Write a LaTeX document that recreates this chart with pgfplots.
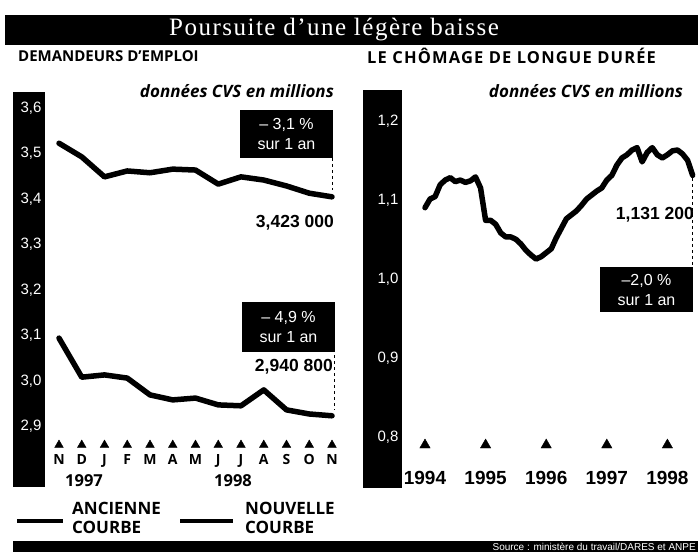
\documentclass[border=0pt]{standalone}
\usepackage{pgfplots}
\pgfplotsset{compat=1.18}
\usepackage{fontspec}
\setmainfont{Liberation Sans}
\newfontfamily\osans{Open Sans}
\newfontfamily\osanswide[LetterSpace=7]{Open Sans}
\newfontfamily\lserif[LetterSpace=6]{Liberation Serif}

\pgfplotstableread{
m v
0 3.523
1 3.493
2 3.449
3 3.462
4 3.458
5 3.466
6 3.464
7 3.433
8 3.449
9 3.442
10 3.429
11 3.413
12 3.405
}\ancienne

\pgfplotstableread{
m v
0 3.094
1 3.008
2 3.013
3 3.006
4 2.969
5 2.958
6 2.962
7 2.947
8 2.945
9 2.980
10 2.936
11 2.927
12 2.923
}\nouvelle

\pgfplotstableread{
m v
0 1.090
1 1.101
2 1.104
3 1.119
4 1.125
5 1.128
6 1.123
7 1.125
8 1.122
9 1.124
10 1.129
11 1.115
12 1.074
13 1.074
14 1.069
15 1.058
16 1.053
17 1.053
18 1.050
19 1.044
20 1.036
21 1.030
22 1.025
23 1.028
24 1.033
25 1.038
26 1.052
27 1.064
28 1.076
29 1.081
30 1.086
31 1.093
32 1.101
33 1.106
34 1.111
35 1.115
36 1.125
37 1.131
38 1.144
39 1.153
40 1.157
41 1.163
42 1.166
43 1.148
44 1.160
45 1.166
46 1.157
47 1.153
48 1.157
49 1.162
50 1.163
51 1.158
52 1.150
53 1.131
}\longue

\begin{document}
\begin{tikzpicture}[x=1pt,y=1pt]
\path[use as bounding box] (0,0) rectangle (698,552);
% title bar
\fill (5,507) rectangle (698,537);
\node[white, inner sep=0, font=\lserif\fontsize{25}{25}\selectfont] at (334,522) {Poursuite d’une légère baisse};
% headings
\node[anchor=west, inner sep=0, font=\osans\bfseries\fontsize{15}{15}\selectfont] at (18,496) {DEMANDEURS D’EMPLOI};
\node[anchor=west, inner sep=0, font=\osanswide\bfseries\fontsize{16.5}{16.5}\selectfont] at (367,496) {LE CHÔMAGE DE LONGUE DURÉE};
\node[anchor=east, inner sep=0, font=\osans\bfseries\itshape\fontsize{17}{17}\selectfont] at (334,461) {données CVS en millions};
\node[anchor=east, inner sep=0, font=\osans\bfseries\itshape\fontsize{17}{17}\selectfont] at (683,461) {données CVS en millions};
% axis bars
\fill (13,65) rectangle (45,460);
\fill (363,64) rectangle (402,462);
% bottom bar
\fill (13,0) rectangle (698,11);
\node[anchor=east, white, inner sep=0, font=\fontsize{10}{10}\selectfont] at (696,5.5) {Source : ministère du travail/DARES et ANPE};

% left chart
\begin{axis}[at={(45pt,102pt)}, anchor=south west, scale only axis,
  width=300pt, height=358pt,
  xmin=-0.6154, xmax=12.571, ymin=2.8477, ymax=3.6358,
  clip=false, axis line style={draw=none}, major tick length=0,
  ytick={2.9,3,3.1,3.2,3.3,3.4,3.5,3.6},
  /pgf/number format/assume math mode=true,
  yticklabel style={white, font=\fontsize{15}{15}\selectfont,
    /pgf/number format/.cd, use comma, fixed, fixed zerofill, precision=1},
  xtick={0,...,12},
  xticklabels={N,D,J,F,M,A,M,J,J,A,S,O,N},
  xticklabel style={font=\osans\bfseries\fontsize{14}{14}\selectfont, yshift=-1pt},
]
\addplot[black, line width=5.5pt, line join=round, line cap=round] table[x=m,y=v] {\ancienne};
\addplot[black, line width=5.5pt, line join=round, line cap=round] table[x=m,y=v] {\nouvelle};
\addplot[only marks, mark=triangle*, mark size=5pt, black] coordinates {
(0,2.8587) (1,2.8587) (2,2.8587) (3,2.8587) (4,2.8587) (5,2.8587) (6,2.8587)
(7,2.8587) (8,2.8587) (9,2.8587) (10,2.8587) (11,2.8587) (12,2.8587)};
\node[font=\osans\bfseries\fontsize{16.5}{16.5}\selectfont] at (axis cs:1.1,2.7800) {1997};
\node[font=\osans\bfseries\fontsize{16.5}{16.5}\selectfont] at (axis cs:7.65,2.7800) {1998};
\end{axis}

% right chart
\begin{axis}[at={(402pt,102pt)}, anchor=south west, scale only axis,
  width=296pt, height=358pt,
  xmin=-4.554, xmax=54.06, ymin=0.78329, ymax=1.23646,
  clip=false, axis line style={draw=none}, major tick length=0,
  ytick={0.8,0.9,1,1.1,1.2},
  /pgf/number format/assume math mode=true,
  yticklabel style={white, font=\fontsize{15}{15}\selectfont,
    /pgf/number format/.cd, use comma, fixed, fixed zerofill, precision=1},
  xtick={0,12,24,36,48},
  xticklabels={1994,1995,1996,1997,1998},
  xticklabel style={font=\bfseries\fontsize{19}{19}\selectfont, yshift=-18pt},
]
\addplot[black, line width=5.5pt, line join=round, line cap=round] table[x=m,y=v] {\longue};
\addplot[only marks, mark=triangle*, mark size=6pt, black] coordinates {
(0,0.7896) (12,0.7896) (24,0.7896) (36,0.7896) (48,0.7896)};
\end{axis}

% annotations left
\fill (240,394) rectangle (333,442);
\node[white, align=center, inner sep=0, font=\fontsize{16}{20}\selectfont] at (286.5,418) {– 3,1 \%\\sur 1 an};
\node[anchor=east, inner sep=0, font=\bfseries\fontsize{17.5}{17.5}\selectfont] at (334,329) {3,423 000};
\draw[dashed, line width=0.8pt] (332,394) -- (332,362);
\fill (242,200) rectangle (335,250);
\node[white, align=center, inner sep=0, font=\fontsize{16}{20}\selectfont] at (288.5,225) {– 4,9 \%\\sur 1 an};
\node[anchor=east, inner sep=0, font=\bfseries\fontsize{17.5}{17.5}\selectfont] at (333,185) {2,940 800};
\draw[dashed, line width=0.8pt] (334,197) -- (334,142);
% annotations right
\node[anchor=east, inner sep=0, font=\bfseries\fontsize{17.5}{17.5}\selectfont] at (694,337) {1,131 200};
\fill (600,240) rectangle (693,285);
\node[white, align=center, inner sep=0, font=\fontsize{16}{20}\selectfont] at (646.5,262.5) {–2,0 \%\\sur 1 an};
\draw[dashed, line width=0.8pt] (692,374) -- (692,285);

% legend
\draw[line width=4pt] (17,31) -- (63,31);
\draw[line width=3.5pt] (180,31) -- (233,31);
\node[anchor=west, inner sep=0, font=\osans\bfseries\fontsize{17}{17}\selectfont] at (72,44) {ANCIENNE};
\node[anchor=west, inner sep=0, font=\osans\bfseries\fontsize{17}{17}\selectfont] at (72,25) {COURBE};
\node[anchor=west, inner sep=0, font=\osans\bfseries\fontsize{17}{17}\selectfont] at (245,44) {NOUVELLE};
\node[anchor=west, inner sep=0, font=\osans\bfseries\fontsize{17}{17}\selectfont] at (245,25) {COURBE};
\end{tikzpicture}
\end{document}
